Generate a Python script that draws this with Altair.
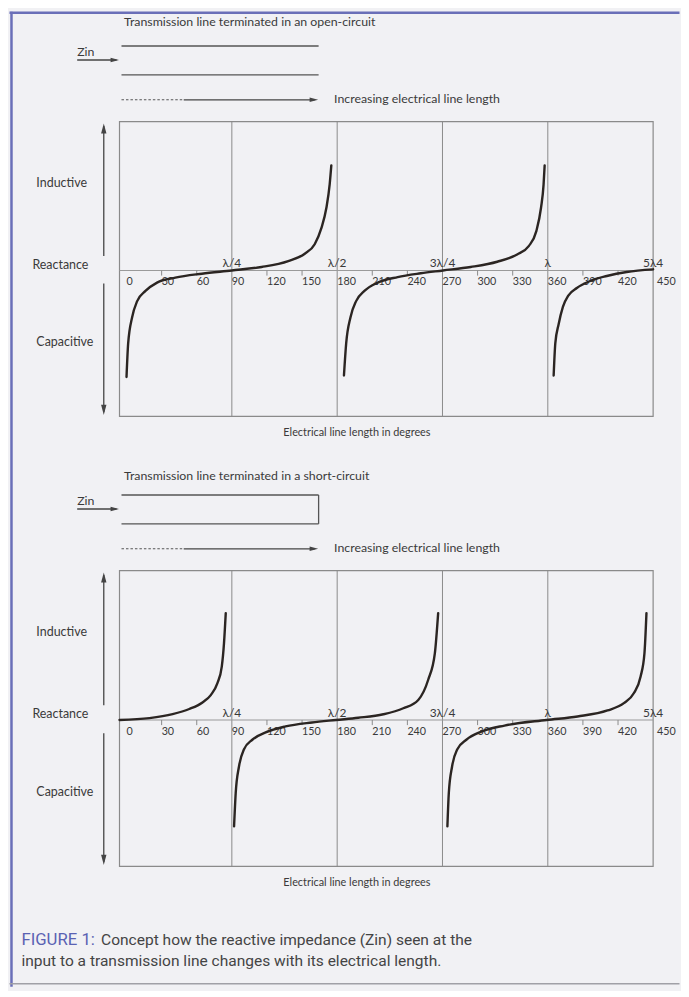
import altair as alt
import pandas as pd

# ---------------- data ----------------
tick_values = [0, 30, 60, 90, 120, 150, 180, 210, 240, 270, 300, 330, 360, 390, 420]
last_tick = [450]
minor_ticks = [30, 60, 120, 150, 210, 240, 300, 330, 390, 420]
quarter_lines = [90, 180, 270, 360]
lambda_pos = [90, 180, 270, 360, 450]
lambda_labels = ["λ/4", "λ/2", "3λ/4", "λ", "5λ4"]

# open-circuit line: reactance (arbitrary units) vs electrical length (deg)
oc_b1_deg = [0, 1.4, 4.8, 9.1, 16.2, 26.1, 41.7, 64.4, 89.9, 115.4, 138.2, 152.3, 160.8, 166.5, 170.8, 173.6, 175.0]
oc_b1_val = [-0.73, -0.50, -0.32, -0.21, -0.14, -0.083, -0.049, -0.022, 0.0, 0.024, 0.065, 0.115, 0.18, 0.29, 0.43, 0.59, 0.72]
oc_b2_deg = [185.8, 187.7, 191.4, 196.2, 203.3, 214.7, 231.7, 251.5, 270.5, 294.1, 316.8, 333.8, 343.7, 350.2, 354.2, 356.4, 357.3]
oc_b2_val = [-0.72, -0.50, -0.32, -0.21, -0.14, -0.083, -0.045, -0.019, 0.0, 0.024, 0.06, 0.11, 0.167, 0.27, 0.43, 0.59, 0.72]
oc_b3_deg = [365.0, 366.4, 369.2, 372.9, 377.7, 384.8, 396.2, 410.4, 427.4, 450]
oc_b3_val = [-0.72, -0.50, -0.37, -0.25, -0.17, -0.12, -0.072, -0.038, -0.01, 0.008]

# short-circuit line
sc_b1_deg = [-6, 19.6, 39.4, 53.6, 64.9, 72.0, 77.6, 81.4, 83.3, 84.8]
sc_b1_val = [0.0, 0.013, 0.04, 0.075, 0.12, 0.17, 0.25, 0.365, 0.525, 0.73]
sc_b2_deg = [91.9, 93.3, 96.1, 100.4, 107.5, 118.9, 135.9, 158.5, 179, 198, 219.5, 236.5, 249.3, 257.8, 263.5, 266.3]
sc_b2_val = [-0.727, -0.50, -0.318, -0.20, -0.135, -0.085, -0.044, -0.017, 0.0, 0.015, 0.039, 0.08, 0.137, 0.275, 0.457, 0.73]
sc_b3_deg = [274.2, 275.4, 278.2, 282.7, 290.4, 303.1, 323, 359, 385.4, 411, 425, 433.6, 439.3, 442.6, 444.3]
sc_b3_val = [-0.727, -0.50, -0.318, -0.20, -0.135, -0.08, -0.038, 0.0, 0.024, 0.065, 0.115, 0.184, 0.297, 0.457, 0.73]

# ---------------- style ----------------
BG = "#f1f1f4"
GRID = "#8a8a8a"
INK = "#2b2522"
TXT = "#3a3a3a"
BLUE = "#6a6fb8"
CAPBLUE = "#5a62b3"
FONT = "Lato"
CAPFONT = "Roboto"

W, H = 536, 296
BOT_TOP = 451
BOT_H = 297
XS = alt.Scale(domain=[-6, 450], nice=False, zero=False)
YDOM = [-1, 1.02]

one = alt.Data(values=[{"k": 0}])


def ys(bottom):
    if bottom:
        return alt.Scale(domain=YDOM, range=[BOT_TOP + BOT_H, BOT_TOP], nice=False, zero=False)
    return alt.Scale(domain=YDOM, nice=False, zero=False)


def XF(f):
    return alt.X(f, type="quantitative", scale=XS, axis=None)


def XD(v):
    return alt.XDatum(v, type="quantitative", scale=XS, axis=None)


def build_curves(branches):
    frames = []
    for i, (d, v) in enumerate(branches):
        frames.append(pd.DataFrame({"deg": d, "val": v, "branch": i}))
    return pd.concat(frames, ignore_index=True)


def ptext(txt, x, y, size, color=TXT, align="left", font=FONT, baseline="middle"):
    return alt.Chart(one).mark_text(
        text=txt, align=align, baseline=baseline, fontSize=size, font=font, color=color
    ).encode(x=alt.value(x), y=alt.value(y))


def hline(x1, x2, y, color, width, dash=None):
    kw = dict(color=color, strokeWidth=width)
    if dash:
        kw["strokeDash"] = dash
    return alt.Chart(one).mark_rule(**kw).encode(x=alt.value(x1), x2=alt.value(x2), y=alt.value(y))


def vline(x, y1, y2, color, width):
    return alt.Chart(one).mark_rule(color=color, strokeWidth=width).encode(
        x=alt.value(x), y=alt.value(y1), y2=alt.value(y2))


ARROW_UP = "M0,0L-0.45,1.7L0.45,1.7Z"
ARROW_DOWN = "M0,0L-0.45,-1.7L0.45,-1.7Z"
ARROW_RIGHT = "M0,0L-1.7,-0.45L-1.7,0.45Z"


def head(shape, x, y, color="#444444", size=144):
    return alt.Chart(one).mark_point(
        shape=shape, filled=True, size=size, color=color, opacity=1, strokeWidth=0
    ).encode(x=alt.value(x), y=alt.value(y))


def panel(bottom, cdf):
    sc = ys(bottom)

    def YD(v):
        return alt.YDatum(v, type="quantitative", scale=sc, axis=None)

    L = []
    # plot box
    L.append(alt.Chart(one).mark_rect(fillOpacity=0, stroke=GRID, strokeWidth=1.2).encode(
        x=XD(-6), x2=alt.datum(450), y=YD(-1), y2=alt.datum(1.02)))
    # quarter-wave grid lines
    L.append(alt.Chart(pd.DataFrame({"deg": quarter_lines})).mark_rule(color=GRID, strokeWidth=1).encode(
        x=XF("deg"), y=YD(-1), y2=alt.datum(1.02)))
    # zero line
    L.append(alt.Chart(one).mark_rule(color="#9a9a9a", strokeWidth=1.2).encode(
        x=XD(-6), x2=alt.datum(450), y=YD(0)))
    # minor ticks
    L.append(alt.Chart(pd.DataFrame({"deg": minor_ticks})).mark_rule(color=GRID, strokeWidth=1).encode(
        x=XF("deg"), y=YD(0), y2=alt.datum(-0.035)))
    # tick labels
    L.append(alt.Chart(pd.DataFrame({"deg": tick_values})).mark_text(
        align="left", baseline="middle", dy=12, fontSize=10.8, font=FONT, color=TXT).encode(
        x=XF("deg"), y=YD(0), text=alt.Text("deg:Q")))
    L.append(alt.Chart(pd.DataFrame({"deg": last_tick})).mark_text(
        align="left", baseline="middle", dx=4, dy=12, fontSize=10.8, font=FONT, color=TXT).encode(
        x=XF("deg"), y=YD(0), text=alt.Text("deg:Q")))
    # lambda labels
    L.append(alt.Chart(pd.DataFrame({"deg": lambda_pos, "lab": lambda_labels})).mark_text(
        align="center", baseline="alphabetic", dy=-3, fontSize=12, font=FONT, color=TXT).encode(
        x=XF("deg"), y=YD(0), text="lab:N"))
    # curves
    L.append(alt.Chart(cdf).mark_line(color=INK, strokeWidth=2.4, interpolate="monotone", strokeCap="round").encode(
        x=XF("deg"), y=alt.Y("val", type="quantitative", scale=sc, axis=None), detail="branch:N"))
    # side labels
    for txt, xl, v in [("Inductive", -83.5, 0.60), ("Reactance", -87.5, 0.04), ("Capacitive", -83.5, -0.49)]:
        L.append(alt.Chart(one).mark_text(text=txt, align="left", baseline="middle", fontSize=12.5,
                                          font=FONT, color=TXT).encode(x=alt.value(xl), y=YD(v)))
    # vertical reactance arrows
    L.append(alt.Chart(one).mark_rule(color="#444444", strokeWidth=1.3).encode(
        x=alt.value(-15.8), y=YD(0.10), y2=alt.datum(0.99)))
    L.append(alt.Chart(one).mark_point(shape=ARROW_UP, filled=True, size=144, color="#444444",
                                       opacity=1, strokeWidth=0).encode(x=alt.value(-15.8), y=YD(1.008)))
    L.append(alt.Chart(one).mark_rule(color="#444444", strokeWidth=1.3).encode(
        x=alt.value(-15.8), y=YD(-0.09), y2=alt.datum(-0.97)))
    L.append(alt.Chart(one).mark_point(shape=ARROW_DOWN, filled=True, size=144, color="#444444",
                                       opacity=1, strokeWidth=0).encode(x=alt.value(-15.8), y=YD(-0.99)))
    # x-axis title
    L.append(alt.Chart(one).mark_text(text="Electrical line length in degrees", align="center",
                                      baseline="middle", dy=17, fontSize=10.9, font=FONT, color=TXT).encode(
        x=alt.value(238.5), y=YD(-1)))
    return L


def schematic(oy, short, title_dy):
    L = []
    title = ("Transmission line terminated in a short-circuit" if short
             else "Transmission line terminated in an open-circuit")
    L.append(ptext(title, 4.5, oy + title_dy, 12.4))
    L.append(ptext("Zin", -42.5, oy - 70, 12.4))
    L.append(hline(-42.5, -3, oy - 62, "#444444", 1.4))
    L.append(head(ARROW_RIGHT, -0.5, oy - 62, size=100))
    L.append(hline(2, 200, oy - 76, "#555555", 1.3))
    L.append(hline(2, 200, oy - 47, "#555555", 1.3))
    if short:
        L.append(vline(200, oy - 76, oy - 47, "#555555", 1.3))
    L.append(hline(2, 64.5, oy - 22, "#555555", 1.1, dash=[2.5, 2]))
    L.append(hline(64.5, 196, oy - 22, "#444444", 1.3))
    L.append(head(ARROW_RIGHT, 199.5, oy - 22, size=100))
    L.append(ptext("Increasing electrical line length", 215.5, oy - 23, 12.4))
    return L


layers = []
# page frame / background
layers.append(alt.Chart(one).mark_rect(fill=BG, strokeWidth=0).encode(
    x=alt.value(-110.5), x2=alt.value(562.5), y=alt.value(-112), y2=alt.value(869)))
layers.append(vline(-108.5, -110.5, 869, BLUE, 2.5))
layers.append(hline(-110.5, 562.5, -109.5, BLUE, 2.5))
layers.append(hline(-110.5, 562.5, 866, "#a0a0a6", 1.5))

top_curves = build_curves([(oc_b1_deg, oc_b1_val), (oc_b2_deg, oc_b2_val), (oc_b3_deg, oc_b3_val)])
bot_curves = build_curves([(sc_b1_deg, sc_b1_val), (sc_b2_deg, sc_b2_val), (sc_b3_deg, sc_b3_val)])

layers += schematic(0, False, -100)
layers += panel(False, top_curves)
layers += schematic(BOT_TOP, True, -95)
layers += panel(True, bot_curves)

# caption
layers.append(ptext("FIGURE 1:", -98.5, 821.7, 16.8, color=CAPBLUE, font=CAPFONT))
layers.append(ptext("Concept how the reactive impedance (Zin) seen at the", -18.5, 821.7, 15.6,
                    color="#444444", font=CAPFONT))
layers.append(ptext("input to a transmission line changes with its electrical length.", -98.5, 842.7, 15.6,
                    color="#444444", font=CAPFONT))

chart = alt.layer(*layers).resolve_scale(y="independent").properties(
    width=W, height=H, background=BG, padding=0
).configure_view(strokeOpacity=0)

chart.save("out.html", embed_options={"renderer": "svg", "actions": False})
